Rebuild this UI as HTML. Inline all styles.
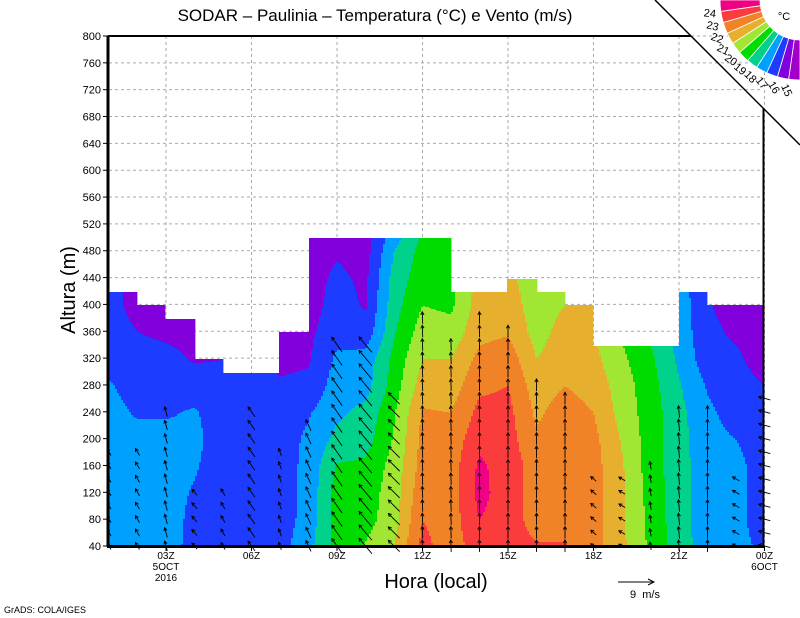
<!DOCTYPE html>
<html><head><meta charset="utf-8">
<style>
html,body{margin:0;padding:0;background:#fff;}
svg{display:block;font-family:"Liberation Sans",sans-serif;}
</style></head>
<body>
<svg id="chart" width="800" height="618" viewBox="0 0 800 618" xmlns="http://www.w3.org/2000/svg">
  <rect x="0" y="0" width="800" height="618" fill="#fff"/>
  <g id="grid"></g>
  <g id="fill"></g>
  <g id="vectors"></g>
  <g id="frame"></g>
  <g id="axes"></g>
  <g id="legend"></g>
  <text x="375" y="21" font-size="17" text-anchor="middle">SODAR – Paulinia – Temperatura (°C) e Vento (m/s)</text>
  <text x="0" y="0" font-size="20" text-anchor="middle" transform="translate(75,290) rotate(-90)">Altura (m)</text>
  <text x="436" y="588" font-size="20" text-anchor="middle">Hora (local)</text>
  <text x="4" y="613" font-size="9">GrADS: COLA/IGES</text>
  <g>
    <line x1="618" y1="582" x2="654" y2="582" stroke="#000" stroke-width="1"/>
    <polyline points="648,579 654,582 648,585" fill="none" stroke="#000" stroke-width="1"/>
    <text x="630" y="598" font-size="11">9&#160;&#160;m/s</text>
  </g>
</svg>
<script>
// ---- data ----
const levels = [40,80,120,160,200,240,280,320,360,400,440,480,500];
const hourLabels = ["03Z","06Z","09Z","12Z","15Z","18Z","21Z","00Z"];
const hourTicks = [3,6,9,12,15,18,21,24];
const yTicks = [40,80,120,160,200,240,280,320,360,400,440,480,520,560,600,640,680,720,760,800];
// temperature (°C) per hour 1..24 at levels above
const temp = [
[17.4,17.4,17.4,17.4,17.4,17.3,17.1,16.6,16.4,16.3,16.3,16.3,16.3],
[17.4,17.4,17.4,17.4,17.3,16.9,16.6,16.4,16.0,15.7,15.7,15.7,15.7],
[17.5,17.5,17.4,17.4,17.3,16.9,16.6,16.3,15.8,15.6,15.6,15.6,15.6],
[16.6,16.7,16.9,17.1,17.2,17.1,16.6,15.9,15.7,15.7,15.7,15.7,15.7],
[16.4,16.4,16.4,16.5,16.6,16.5,16.2,16.0,16.0,16.0,16.0,16.0,16.0],
[16.5,16.4,16.4,16.4,16.4,16.4,16.3,16.3,16.3,16.3,16.3,16.3,16.3],
[16.6,16.5,16.5,16.5,16.5,16.5,16.1,15.8,15.7,15.7,15.7,15.7,15.7],
[17.7,17.4,17.3,17.3,17.2,16.9,16.2,15.9,15.8,15.6,15.6,15.6,15.6],
[19.4,19.5,19.5,19.1,18.3,17.8,17.5,17.2,16.6,16.4,16.2,15.9,15.6],
[20.1,19.6,19.5,19.2,18.6,18.3,17.6,17.4,16.3,15.9,15.8,15.6,15.6],
[21.0,20.6,20.5,20.4,20.1,19.9,19.5,19.3,18.9,18.6,18.4,18.0,17.6],
[23.3,23.0,22.7,22.4,22.3,22.1,21.5,21.0,20.5,20.0,19.6,19.4,19.2],
[22.5,22.5,22.5,22.5,22.4,22.0,21.5,21.0,20.4,19.8,19.6,19.6,19.6],
[23.5,24.0,24.3,24.2,23.7,23.3,22.8,22.3,21.7,21.5,21.4,21.4,21.4],
[23.4,23.5,23.5,23.5,23.4,23.3,23.0,22.6,21.9,21.5,21.2,21.2,21.2],
[23.1,22.6,22.6,22.6,22.2,21.8,21.5,21.0,20.6,20.5,20.5,20.5,20.5],
[23.1,22.6,22.6,22.6,22.6,22.5,22.0,21.6,21.4,21.0,21.0,21.0,21.0],
[22.4,22.4,22.4,22.4,22.3,22.0,21.6,21.3,21.0,21.0,21.0,21.0,21.0],
[21.2,21.2,21.2,21.1,20.9,20.6,20.5,20.2,19.9,19.9,19.9,19.9,19.9],
[19.8,19.7,19.6,19.5,19.5,19.5,19.4,19.2,18.8,18.8,18.8,18.8,18.8],
[18.4,18.4,18.4,18.4,18.4,18.3,18.1,17.8,17.6,17.6,17.6,17.6,17.6],
[17.6,17.4,17.4,17.4,17.3,17.2,16.9,16.4,16.3,16.1,15.9,15.9,15.9],
[17.3,17.3,17.3,17.3,17.0,16.6,16.4,16.2,15.8,15.5,15.5,15.5,15.5],
[16.8,16.5,16.5,16.5,16.5,16.5,16.0,15.5,15.5,15.5,15.5,15.5,15.5]
];
// top of valid data per hourly interval (23 intervals)
const dataTop = [420,400,380,320,300,300,360,500,500,500,500,500,420,420,440,420,400,340,340,340,420,400,400];
// wind per hour: speed (m/s), direction arrow points to (deg, 90=up,180=left), top level with data
const windSpd = [2,2,2.5,2,2,3,2,3,4.5,5,4,3,3,3,3,3,3,1.8,1.8,2,3,3,2,3];
const windDir = [120,120,105,130,120,125,110,115,125,130,135,92,92,91,90,90,90,140,150,100,95,90,150,165];
const windTop = [180,180,240,120,120,240,180,220,340,340,260,380,340,380,360,280,260,140,140,160,240,240,140,260];
// shading classes
const contourLevels = [15,16,17,18,19,20,21,22,23,24];
const classColors = ["#a000c8","#8200dc","#1e3cff","#00a0ff","#00d28c","#00dc00","#a0e632","#e6af2d","#f08228","#fa3c3c","#f00082"];
const legendLabels = ["15","16","17","18","19","20","21","22","23","24"];

// ---- geometry ----
const X0 = 109, HW = 28.5, Y0 = 546, PX_PER_M = 510/760;
const xOf = h => X0 + (h-1)*HW;
const yOf = m => Y0 - (m-40)*PX_PER_M;
const mOf = y => 40 + (Y0 - y)/PX_PER_M;
const NS = "http://www.w3.org/2000/svg";
function mk(tag, attrs, parent){ const e = document.createElementNS(NS, tag); for (const k in attrs) e.setAttribute(k, attrs[k]); parent.appendChild(e); return e; }

function classOf(t){ let c = 0; while (c < contourLevels.length && t >= contourLevels[c]) c++; return c; }
function tempAt(h, m){
  let hi = Math.min(Math.max(h-1,0),22.9999); const i0 = Math.floor(hi), fh = hi - i0;
  let li = 0; while (li < levels.length-2 && m > levels[li+1]) li++;
  let fm = (m - levels[li])/(levels[li+1]-levels[li]); fm = Math.max(0, Math.min(1, fm));
  const a = temp[i0][li]*(1-fm) + temp[i0][li+1]*fm;
  const b = temp[i0+1][li]*(1-fm) + temp[i0+1][li+1]*fm;
  return a*(1-fh) + b*fh;
}

// grid
const grid = document.getElementById('grid');
yTicks.forEach(v => {
  const gl = mk('line', {x1:X0, x2:763, y1:yOf(v), y2:yOf(v), stroke:'#aaa', 'stroke-width':1, 'stroke-dasharray':'3,3'}, grid);
  
  
});
hourTicks.forEach(h => {
  const gl = mk('line', {x1:xOf(h), x2:xOf(h), y1:36, y2:Y0, stroke:'#aaa', 'stroke-width':1, 'stroke-dasharray':'3,3'}, grid);
  
  
});

// shading
const fill = document.getElementById('fill');
const STEP = 2;
for (let x = X0; x < 763; x += STEP) {
  const col = Math.min(22, Math.floor((x + STEP/2 - X0)/HW));
  const topY = Math.round(yOf(dataTop[col]));
  const h = 1 + (x + STEP/2 - X0)/HW;
  let runStart = Y0, runCls = -1;
  for (let y = Y0; y >= topY; y--) {
    const c = (y === topY) ? -2 : classOf(tempAt(h, mOf(y - 0.5)));
    if (c !== runCls) {
      if (runCls >= 0) {
        const r = mk('rect', {x:x, y:y+1, width:STEP+0.4, height:runStart-(y+1), fill:classColors[runCls]}, fill);
        
        
      }
      runStart = y + 1; runCls = c;
    }
  }
}

// vectors
const vec = document.getElementById('vectors');
const PX_PER_MS = 4;
for (let i = 0; i < 24; i++) {
  const h = i + 1;
  for (let m = 40; m <= windTop[i]; m += 20) {
    const len = windSpd[i]*PX_PER_MS;
    const a = windDir[i]*Math.PI/180;
    const dx = Math.cos(a)*len, dy = -Math.sin(a)*len;
    const cx = xOf(h), cy = yOf(m);
    const x1 = cx - dx/2, y1 = cy - dy/2, x2 = cx + dx/2, y2 = cy + dy/2;
    const g = mk('g', {}, vec);
    
    
    mk('line', {x1:x1, y1:y1, x2:x2, y2:y2, stroke:'#000', 'stroke-width':0.9}, g);
    const hl = 3.5, sp = 0.5;
    const ba = Math.atan2(y1-y2, x1-x2);
    mk('polyline', {points:`${x2+hl*Math.cos(ba+sp)},${y2+hl*Math.sin(ba+sp)} ${x2},${y2} ${x2+hl*Math.cos(ba-sp)},${y2+hl*Math.sin(ba-sp)}`, fill:'none', stroke:'#000', 'stroke-width':0.9}, g);
  }
}

// frame
const frame = document.getElementById('frame');
mk('line', {x1:108, y1:36, x2:108, y2:547, stroke:'#000', 'stroke-width':3}, frame);
mk('line', {x1:107, y1:546.5, x2:764, y2:546.5, stroke:'#000', 'stroke-width':3}, frame);
mk('line', {x1:108, y1:36, x2:691, y2:36, stroke:'#000', 'stroke-width':2}, frame);
mk('line', {x1:763.5, y1:108, x2:763.5, y2:547, stroke:'#000', 'stroke-width':2}, frame);
mk('line', {x1:655, y1:0, x2:800, y2:145, stroke:'#000', 'stroke-width':1.5}, frame);

// axes labels
const axes = document.getElementById('axes');
yTicks.forEach(v => {
  const y = yOf(v);
  mk('line', {x1:103, x2:108, y1:y, y2:y, stroke:'#000', 'stroke-width':1}, axes);
  const t = mk('text', {x:101, y:y+4, 'font-size':11, 'text-anchor':'end'}, axes);
  t.textContent = v;
  
  
});
hourTicks.forEach((h, i) => {
  const x = xOf(h);
  mk('line', {x1:x, x2:x, y1:546, y2:551, stroke:'#000', 'stroke-width':1}, axes);
  const t = mk('text', {x:x, y:559, 'font-size':10, 'text-anchor':'middle'}, axes);
  t.textContent = hourLabels[i];
  
  
});
[["5OCT",xOf(3),570],["2016",xOf(3),581],["6OCT",xOf(24),570]].forEach(d => {
  const t = mk('text', {x:d[1], y:d[2], 'font-size':10, 'text-anchor':'middle'}, axes);
  t.textContent = d[0];
  
  
});

// legend
const leg = document.getElementById('legend');
const CX = 800, CY = 0, R1 = 40, R2 = 80, N = classColors.length;
for (let k = 0; k < N; k++) {
  const t0 = (90 + k*90/N)*Math.PI/180, t1 = (90 + (k+1)*90/N)*Math.PI/180;
  const p = (r,t) => `${CX + r*Math.cos(t)},${CY + r*Math.sin(t)}`;
  const s = mk('path', {d:`M${p(R1,t0)} L${p(R2,t0)} A${R2},${R2} 0 0 1 ${p(R2,t1)} L${p(R1,t1)} A${R1},${R1} 0 0 0 ${p(R1,t0)} Z`, fill:classColors[k], stroke:'#fff', 'stroke-width':0.8}, leg);
  
  
}
legendLabels.forEach((lab, i) => {
  const th = 90 + (i+1)*90/N;
  const t = th*Math.PI/180, r = 91;
  const x = CX + r*Math.cos(t), y = CY + r*Math.sin(t);
  const tx = mk('text', {x:0, y:4, 'font-size':11, 'text-anchor':'middle', transform:`translate(${x},${y}) rotate(${(180-th)*0.8})`}, leg);
  tx.textContent = lab;
  
  
});
const unit = mk('text', {x:784, y:20, 'font-size':11, 'text-anchor':'middle'}, leg);
unit.textContent = "°C";


</script>
</body></html>
